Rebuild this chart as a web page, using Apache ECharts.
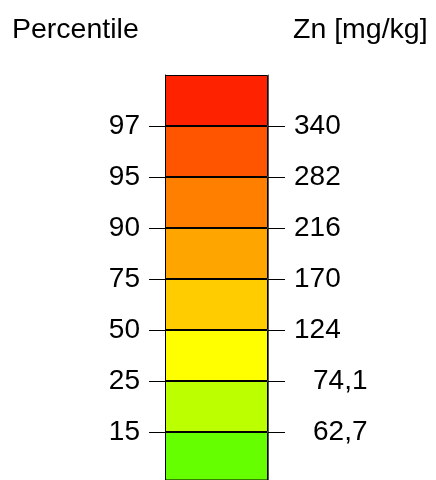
<!DOCTYPE html>
<html>
<head>
<meta charset="utf-8">
<script src="https://cdn.jsdelivr.net/npm/echarts@6/dist/echarts.min.js"></script>
<style>
  html, body { margin: 0; padding: 0; background: #fff; }
  #main { width: 436px; height: 480px; }
</style>
</head>
<body>
<div id="main"></div>
<script>
// class boundaries, bottom to top
var percentiles = ['15', '25', '50', '75', '90', '95', '97'];
var znValues = ['62,7', '74,1', '124', '170', '216', '282', '340'];
// one band below each boundary plus one on top
var bandNames = ['<15', '15-25', '25-50', '50-75', '75-90', '90-95', '95-97', '>97'];
var bandColors = ['#66ff00', '#bbff00', '#ffff00', '#ffcc00', '#ffa500', '#ff8000', '#ff5500', '#ff2200'];

var font = "'Liberation Sans', Arial, sans-serif";
var chart = echarts.init(document.getElementById('main'));

var tickPos = [];
for (var i = 0; i < percentiles.length; i++) tickPos.push(i + 1);

var series = [];
for (var j = 0; j < bandNames.length; j++) {
	series.push({
		name: bandNames[j],
		type: 'bar',
		stack: 'legend',
		barWidth: '100%',
		silent: true,
		itemStyle: { color: bandColors[j], borderColor: '#000', borderWidth: 1 },
		data: [1]
	});
}

// bottom band runs off the page a little
var yMin = bandNames.length - 405 / 51;

function axis(pos, labels, lineColor, margin, tickLen, fmt) {
	return {
		type: 'value',
		position: pos,
		min: yMin,
		max: bandNames.length,
		z: 5,
		axisLine: { show: true, lineStyle: { color: lineColor, width: 1 } },
		axisTick: { show: true, customValues: tickPos, length: tickLen, lineStyle: { color: '#000', width: 1 } },
		splitLine: { show: false },
		axisLabel: {
			customValues: tickPos,
			margin: margin,
			color: '#000',
			fontSize: 28,
			fontFamily: font,
			formatter: fmt || function (v) { return labels[Math.round(v) - 1] || ''; },
			rich: { dec: { fontSize: 28, fontFamily: font, color: '#000', padding: [0, 0, 0, 19] } }
		}
	};
}

var titleStyle = { fontSize: 28.5, fontWeight: 'normal', fontFamily: font, color: '#000' };

chart.setOption({
	animation: false,
	title: [
		{ text: 'Percentile', left: 12, top: 16, padding: 0, textStyle: titleStyle },
		{ text: 'Zn [mg/kg]', left: 293, top: 16, padding: 0, textStyle: titleStyle }
	],
	grid: { left: 165, right: 168, top: 75, bottom: 0 },
	xAxis: { type: 'category', data: ['Zn'], show: false },
	yAxis: [
		axis('left', percentiles, '#000', 25, 16),
		axis('right', znValues, '#555', 26, 17, function (v) {
			var s = znValues[Math.round(v) - 1] || '';
			return s.indexOf(',') >= 0 ? '{dec|' + s + '}' : s;
		})
	],
	series: series
});
</script>
</body>
</html>
